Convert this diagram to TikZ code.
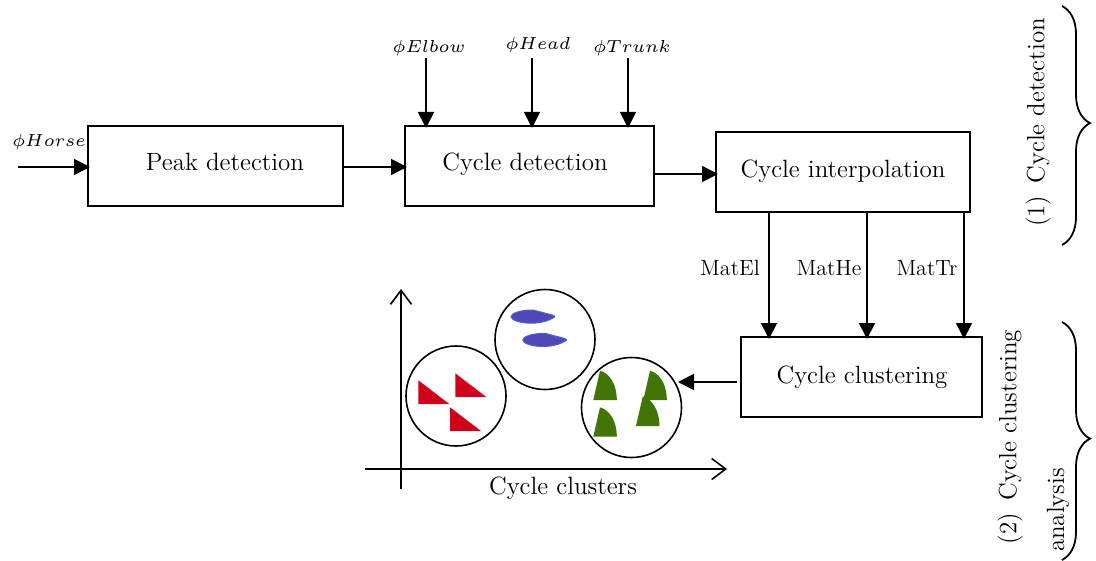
\documentclass[tikz,border=0pt]{standalone}
\usetikzlibrary{arrows.meta,decorations.pathreplacing}
\definecolor{cred}{RGB}{208,2,27}
\definecolor{cgreen}{RGB}{65,117,5}
\definecolor{cbluef}{RGB}{80,70,180}
\definecolor{cblued}{RGB}{74,100,225}
\tikzset{
  x=0.5pt,y=-0.5pt,
  every node/.style={inner sep=0pt,outer sep=0pt,text=black},
  boxnode/.style={draw,line width=0.9pt,minimum height=40pt,outer sep=0pt},
  lbl/.style={font=\fontsize{12.5}{15}\selectfont},
  smalllbl/.style={font=\fontsize{11}{13}\selectfont},
  philbl/.style={font=\fontsize{6}{7}\selectfont,scale=1.45},
  flow/.style={line width=0.9pt,-{Triangle[length=8pt,width=8pt]},shorten >=-1pt},
  axisline/.style={line width=0.8pt,-{Straight Barb[length=7pt,width=10.5pt,line width=0.8pt]}},
  cluster/.style={draw,circle,line width=0.8pt,minimum size=50pt},
  bracey/.style={line width=0.9pt,decorate,decoration={brace,amplitude=14pt,aspect=0.49}},
  redtri/.pic={\fill[cred] (0,0) -- (0,23.7) -- (31,23.7) -- cycle;},
  greenblade/.pic={\fill[cgreen] (6.7,-29.3) .. controls (16,-27) and (23.5,-16) .. (23.5,0) -- (0,0) -- cycle;},
  blueleaf/.pic={\filldraw[fill=cbluef,draw=cblued,line width=0.5pt] (0,0) .. controls (0,-3) and (8,-6.7) .. (22,-6.7) -- (42,-1.5) .. controls (44,-0.8) and (44,0) .. (43.5,0.5) .. controls (38,4) and (30,6.5) .. (20,6.5) .. controls (8,6.5) and (0,3) .. (0,0) -- cycle;},
}
\begin{document}
\begin{tikzpicture}
\useasboundingbox (0,0) rectangle (1096,561);
% boxes
\node[boxnode,minimum width=127.5pt] (peak) at (215.5,166) {};
\node[boxnode,minimum width=124.5pt] (det) at (529.5,166) {};
\node[boxnode,minimum width=127pt] (interp) at (843,172) {};
\node[boxnode,minimum width=120.5pt] (clust) at (861.5,377) {};
% box texts
\node[lbl] (peaktxt) at (225,162) {Peak detection};
\node[lbl] (dettxt) at (525,164) {Cycle detection};
\node[lbl] (interptxt) at (843,171.5) {Cycle interpolation};
\node[lbl] (clusttxt) at (862,377.5) {Cycle clustering};
% inputs
\node[philbl] (horse) at (49,142.5) {$\phi Horse$};
\node[philbl] (elbow) at (429,48) {$\phi Elbow$};
\node[philbl] (head) at (538,45) {$\phi Head$};
\node[philbl] (trunk) at (632,48) {$\phi Trunk$};
\coordinate (horsestart) at (18,167);
\coordinate (elbowstart) at (426,58);
\coordinate (headstart) at (532,58);
\coordinate (trunkstart) at (628,58);
\draw[flow] (horsestart) -- (horsestart -| peak.west);
\draw[flow] (elbowstart) -- (elbowstart |- det.north);
\draw[flow] (headstart) -- (headstart |- det.north);
\draw[flow] (trunkstart) -- (trunkstart |- det.north);
% between boxes
\coordinate (peakout) at (343,167);
\coordinate (detout) at (654,174);
\draw[flow] (peakout) -- (peakout -| det.west);
\draw[flow] (detout) -- (detout -| interp.west);
% Mat arrows
\coordinate (m1) at (769,212);
\coordinate (m2) at (867,212);
\coordinate (m3) at (964,212);
\draw[flow] (m1) -- (m1 |- clust.north);
\draw[flow] (m2) -- (m2 |- clust.north);
\draw[flow] (m3) -- (m3 |- clust.north);
\node[smalllbl] (matel) at (730,268) {MatEl};
\node[smalllbl] (mathe) at (829,268) {MatHe};
\node[smalllbl] (mattr) at (927,268) {MatTr};
% axes
\coordinate (ybottom) at (401,489);
\coordinate (ytop) at (401,289);
\coordinate (xleft) at (365,469);
\coordinate (xright) at (727,469);
\draw[axisline] (ybottom) -- (ytop);
\draw[axisline] (xleft) -- (xright);
\node[lbl] (axislbl) at (563,488.5) {Cycle clusters};
% clusters
\node[cluster] (cr) at (456,396) {};
\node[cluster] (cb) at (545,339.5) {};
\node[cluster] (cg) at (631.5,407.5) {};
\pic at (418.3,380.3) {redtri};
\pic at (455.3,373.3) {redtri};
\pic at (450,407.3) {redtri};
\pic at (511,316.7) {blueleaf};
\pic at (522.8,340) {blueleaf};
\pic at (593.3,400) {greenblade};
\pic at (643.3,400) {greenblade};
\pic at (593.3,436.7) {greenblade};
\pic at (636,426) {greenblade};
\coordinate (clustout) at (737,382);
\draw[flow,shorten >=-1.75pt] (clustout) -- (clustout -| cg.east);
% braces
\coordinate (b1t) at (1062,6);
\coordinate (b1b) at (1062,245);
\coordinate (b2t) at (1062,322);
\coordinate (b2b) at (1062,560);
\draw[bracey] (b1t) -- (b1b);
\draw[bracey] (b2t) -- (b2b);
\node[lbl,rotate=90] (t1) at (1038,122.5) {(1)\, Cycle detection};
\node[lbl,rotate=90] (t2) at (1010,437) {(2)\, Cycle clustering};
\node[lbl,rotate=90] (t3) at (1058,510) {analysis};
\end{tikzpicture}
\end{document}
